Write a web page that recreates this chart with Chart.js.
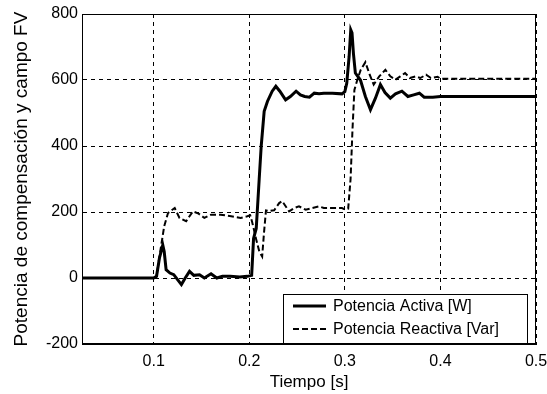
<!DOCTYPE html>
<html><head><meta charset="utf-8">
<script src="https://cdn.jsdelivr.net/npm/chart.js@4/dist/chart.umd.min.js"></script>
<style>html,body{margin:0;padding:0;background:#fff;}#wrap{width:547px;height:394px;}</style>
</head><body><div id="wrap"><canvas id="c" width="547" height="394"></canvas></div>
<script>
const timeActive = [0.025,0.100,0.103,0.106,0.1095,0.111,0.113,0.117,0.121,0.125,0.129,0.133,0.1375,0.142,0.148,0.153,0.160,0.166,0.172,0.180,0.190,0.198,0.2025,
  0.2045,0.2073,0.2104,0.2125,0.2156,0.219,0.224,0.2278,0.232,0.238,0.243,0.249,0.2535,0.258,0.263,0.268,0.273,0.278,0.287,0.297,0.300,
  0.302,0.3045,0.3062,0.3075,0.309,0.311,0.3163,0.3215,0.3268,0.332,0.3372,0.342,0.3476,0.353,0.3597,0.366,0.372,0.378,0.383,0.392,0.400,0.500];
const activePower = [0,0,5,60,100,80,25,15,10,-5,-20,0,20,8,10,0,13,0,5,5,3,5,8,
  120,150,300,400,505,535,566,581,566,540,550,566,555,550,548,560,558,560,560,558,565,
  590,672,752,743,680,621,600,550,510,545,586,562,545,558,566,550,555,560,548,548,550,550];
const timeReactive = [0.025,0.100,0.103,0.1055,0.109,0.111,0.115,0.122,0.127,0.134,0.141,0.147,0.153,0.160,0.170,0.181,0.191,0.198,0.201,
  0.203,0.207,0.2105,0.2135,0.2155,0.2175,0.221,0.226,0.2313,0.2344,0.2417,0.247,0.252,0.259,0.266,0.273,0.278,0.2833,0.297,0.3007,
  0.3035,0.306,0.308,0.310,0.313,0.3165,0.3215,0.326,0.3302,0.336,0.3424,0.3476,0.3528,0.358,0.363,0.368,0.374,0.379,0.385,0.390,0.397,0.400,0.500];
const reactivePower = [0,0,5,55,120,157,197,212,182,172,202,195,182,192,192,187,182,187,190,
  170,120,80,65,140,205,203,205,227,233,202,212,217,207,212,217,212,212,212,207,
  210,300,450,570,600,630,654,616,586,611,631,611,601,611,621,606,611,606,616,606,610,604,604];
const xTicks = [0.1,0.2,0.3,0.4,0.5];
const yTicks = [-200,0,200,400,600,800];
const seriesNames = ['Potencia Activa [W]','Potencia Reactiva [Var]'];
const xTitle = 'Tiempo [s]';
const yTitle = 'Potencia de compensación y campo FV';

const FONT = '"Liberation Sans", Arial, sans-serif';
const toXY = (xs, ys) => xs.map((x, i) => ({x, y: ys[i]}));

const frameAndLegend = {
  id: 'frameAndLegend',
  afterDraw(chart) {
    const {ctx, chartArea: a} = chart;
    ctx.save();
    ctx.strokeStyle = '#000';
    ctx.lineWidth = 1;
    ctx.setLineDash([]);
    const l = Math.round(a.left) + 0.5, t = Math.round(a.top) + 0.5;
    const r = Math.round(a.right) - 0.5, b = Math.round(a.bottom) - 0.5;
    ctx.strokeRect(l, t, r - l, b - t);
    const bx = 283.5, by = 294.5, bw = 244, bh = 49;
    ctx.fillStyle = '#fff';
    ctx.fillRect(bx, by, bw, bh);
    ctx.strokeRect(bx, by, bw, bh);
    ctx.font = '16px ' + FONT;
    ctx.textBaseline = 'middle';
    ctx.textAlign = 'left';
    ctx.fillStyle = '#000';
    chart.data.datasets.forEach((ds, i) => {
      const y = 306 + i * 23;
      ctx.beginPath();
      ctx.lineWidth = ds.borderWidth;
      ctx.setLineDash(ds.borderDash || []);
      ctx.moveTo(293, y);
      ctx.lineTo(326, y);
      ctx.stroke();
      ctx.setLineDash([]);
      ctx.fillText(ds.label, 333, y + 1);
    });
    ctx.restore();
  }
};

new Chart(document.getElementById('c'), {
  type: 'line',
  data: {
    datasets: [
      {label: seriesNames[0], data: toXY(timeActive, activePower), borderColor: '#000', borderWidth: 3, pointRadius: 0, tension: 0, fill: false},
      {label: seriesNames[1], data: toXY(timeReactive, reactivePower), borderColor: '#000', borderWidth: 2, borderDash: [6, 3], pointRadius: 0, tension: 0, fill: false}
    ]
  },
  options: {
    responsive: false,
    animation: false,
    devicePixelRatio: 1,
    layout: {padding: {left: 0, top: 14, right: 11, bottom: 0}},
    plugins: {legend: {display: false}, tooltip: {enabled: false}},
    scales: {
      x: {
        type: 'linear', min: 0.025, max: 0.5,
        afterBuildTicks: s => { s.ticks = xTicks.map(v => ({value: v})); },
        afterFit: s => { s.height = 50; s.paddingLeft = 0; s.paddingRight = 0; },
        ticks: {color: '#000', font: {family: FONT, size: 16}, padding: 8, maxRotation: 0, autoSkip: false,
          callback: v => String(v)},
        grid: {color: '#000', lineWidth: 1, drawTicks: false},
        border: {display: true, color: '#000', dash: [4, 4]},
        title: {display: true, text: xTitle, color: '#000', font: {family: FONT, size: 17}, padding: {top: 0, bottom: 1}}
      },
      y: {
        type: 'linear', min: -200, max: 800,
        afterBuildTicks: s => { s.ticks = yTicks.map(v => ({value: v})); },
        afterFit: s => { s.width = 82; s.paddingTop = 0; s.paddingBottom = 0; },
        ticks: {color: '#000', font: {family: FONT, size: 16}, padding: 4, autoSkip: false},
        grid: {color: '#000', lineWidth: 1, drawTicks: false},
        border: {display: true, color: '#000', dash: [4, 4]},
        title: {display: true, text: yTitle, color: '#000', font: {family: FONT, size: 19}, padding: {top: 10, bottom: 0}}
      }
    }
  },
  plugins: [frameAndLegend]
});
</script></body></html>
